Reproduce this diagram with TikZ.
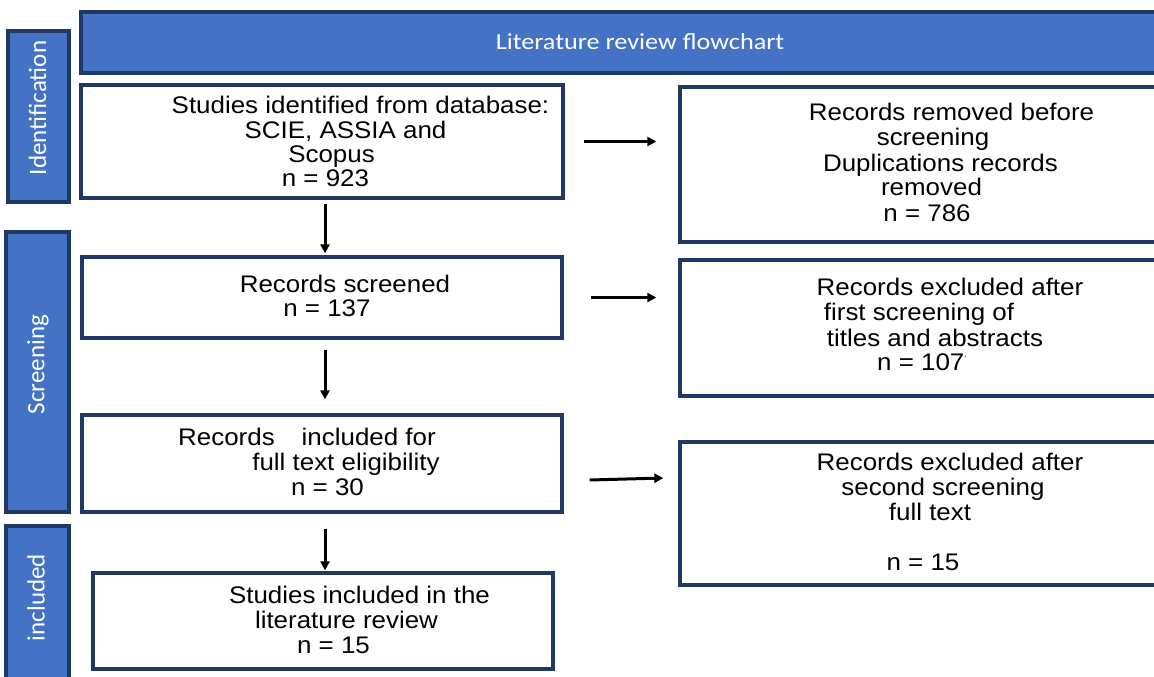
\documentclass[tikz,border=0pt]{standalone}
\usepackage{fontspec}
\setmainfont{Liberation Sans}
\newfontfamily\boxfont[FakeStretch=1.08]{Liberation Sans}
\newfontfamily\hdfont[FakeStretch=1.14]{Carlito}
\newfontfamily\sidefont{Carlito}
\usetikzlibrary{arrows.meta,calc}
\definecolor{navy}{HTML}{1F3864}
\definecolor{hblue}{HTML}{4472C4}
\tikzset{
  frame/.style={draw=navy, line width=3.3pt, rectangle, inner sep=0pt, fill=white},
  hbox/.style={frame, fill=hblue},
  txt/.style={font={\boxfont\fontsize{24}{25}\selectfont}, anchor=base, inner sep=0pt},
  side/.style={font={\sidefont\fontsize{25}{25}\selectfont}, text=white, rotate=90, inner sep=0pt},
  arr/.style={line width=3pt, -{Triangle[length=9pt,width=9pt]}}
}
\begin{document}
\begin{tikzpicture}[x=1pt,y=1pt]
\useasboundingbox (0,0) rectangle (1154,-677);
\begin{scope}
\clip (0,0) rectangle (1154,-677);
% header and phase boxes
\node[hbox, minimum width=1089, minimum height=61] (title) at (625.5,-42.5) {};
\node[hbox, minimum width=61, minimum height=171] (ident) at (38.5,-116.5) {};
\node[hbox, minimum width=63, minimum height=280] (scr) at (37.5,-372) {};
\node[hbox, minimum width=63, minimum height=174] (incl) at (37.5,-613) {};
\node[font={\hdfont\fontsize{23}{25}\selectfont}, text=white, anchor=base, inner sep=0pt] (titletxt) at (640,-50) {Literature review flowchart};
\node[side] (identtxt) at (37.5,-108) {Identification};
\node[side] (scrtxt) at (38,-364.5) {Screening};
\node[side] (incltxt) at (36,-597.5) {included};
% main boxes
\node[frame, minimum width=482, minimum height=113] (b1) at (322,-141.5) {};
\node[frame, minimum width=480, minimum height=81] (b2) at (322,-297.5) {};
\node[frame, minimum width=480, minimum height=97] (b3) at (322,-463.5) {};
\node[frame, minimum width=460, minimum height=96] (b4) at (323,-621) {};
\node[frame, minimum width=490, minimum height=155] (r1) at (925,-164.5) {};
\node[frame, minimum width=490, minimum height=136] (r2) at (925,-328) {};
\node[frame, minimum width=490, minimum height=143] (r3) at (925,-513.5) {};
% texts
\node[txt] (b1a) at (360.5,-113) {Studies identified from database:};
\node[txt] (b1b) at (345.5,-138) {SCIE, ASSIA and};
\node[txt] (b1c) at (331.5,-162) {Scopus};
\node[txt] (b1d) at (325.5,-186) {n = 923};
\node[txt] (b2a) at (345,-292) {Records screened};
\node[txt] (b2b) at (327,-316) {n = 137};
\node[txt] (b3a) at (307,-445) {Records\hspace*{27pt}included for};
\node[txt] (b3b) at (346,-470) {full text eligibility};
\node[txt] (b3c) at (327.5,-495) {n = 30};
\node[txt] (b4a) at (359.5,-603) {Studies included in the};
\node[txt] (b4b) at (346.5,-628) {literature review};
\node[txt] (b4c) at (333.5,-653) {n = 15};
\node[txt] (r1a) at (951.5,-120) {Records removed before};
\node[txt] (r1b) at (933,-145) {screening};
\node[txt] (r1c) at (940.5,-171) {Duplications records};
\node[txt] (r1d) at (931.5,-195) {removed};
\node[txt] (r1e) at (927,-221) {n = 786};
\node[txt] (r2a) at (950,-295) {Records excluded after};
\node[txt] (r2b) at (919,-320) {first screening of};
\node[txt] (r2c) at (935,-346) {titles and abstracts};
\node[txt, anchor=base west] (r2d) at (877,-370) {n = 107\raisebox{9pt}{\fontsize{8}{8}\selectfont ’}};
\node[txt] (r3a) at (950,-470) {Records excluded after};
\node[txt] (r3b) at (943,-495) {second screening};
\node[txt] (r3c) at (930,-520) {full text};
\node[txt] (r3d) at (923,-570) {n = 15};
% connectors
\draw[arr] ($(b1.south)+(3,-4)$) -- ($(b2.north)+(3,2)$);
\draw[arr] ($(b2.south)+(3,-10)$) -- ($(b3.north)+(3,14)$);
\draw[arr] ($(b3.south)+(3,-15)$) -- ($(b4.north)+(2,1)$);
\draw[arr] ($(b1.east)+(19,0)$) -- ($(r1.west |- b1.east)+(-22,0)$);
\draw[arr] ($(b2.east)+(27,0)$) -- ($(r2.west |- b2.east)+(-22,0)$);
\draw[arr] ($(b3.east)+(26,-16.5)$) -- ($(r3.west)+(-15,35.5)$);
\end{scope}
\end{tikzpicture}
\end{document}
